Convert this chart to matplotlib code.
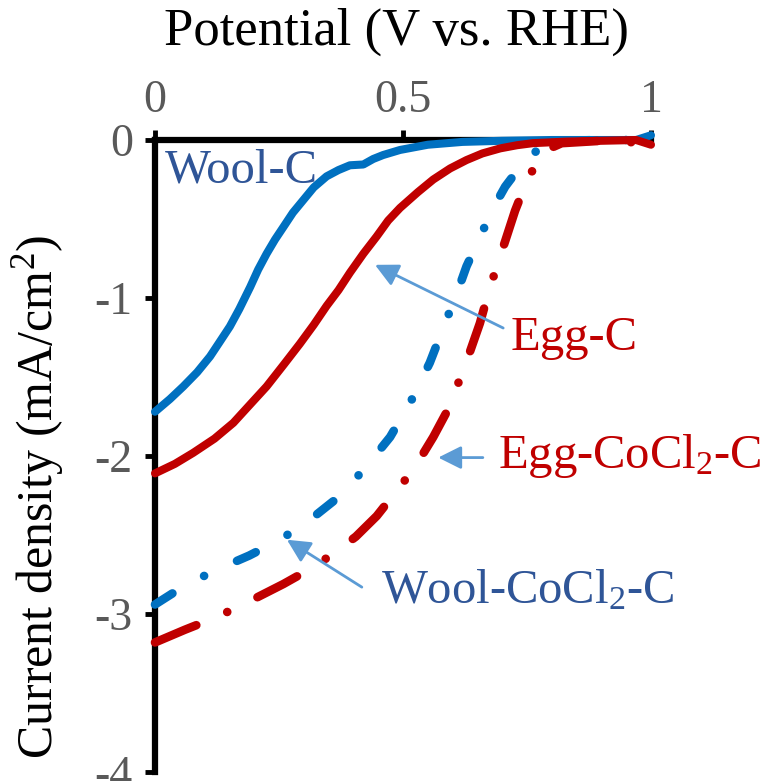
import matplotlib
matplotlib.use("Agg")
import matplotlib.pyplot as plt

plt.rcParams['font.family'] = ['Liberation Serif', 'DejaVu Serif']
plt.rcParams['mathtext.fontset'] = 'custom'
plt.rcParams['mathtext.rm'] = 'Liberation Serif'
plt.rcParams['mathtext.it'] = 'Liberation Serif:italic'
plt.rcParams['axes.unicode_minus'] = False

# ---- data ----
wool_x = [0, 0.03, 0.057, 0.085, 0.111, 0.13, 0.151, 0.17, 0.192, 0.208, 0.225, 0.242, 0.259,
          0.278, 0.299, 0.32, 0.346, 0.37, 0.393, 0.42, 0.44, 0.46, 0.494, 0.55, 0.62, 0.70,
          0.80, 0.90, 0.97, 1.0]
wool_y = [-1.72, -1.64, -1.56, -1.47, -1.37, -1.28, -1.18, -1.07, -0.93, -0.82, -0.72, -0.63,
          -0.55, -0.46, -0.38, -0.30, -0.23, -0.19, -0.16, -0.155, -0.12, -0.095, -0.063,
          -0.03, -0.012, -0.005, 0, 0, 0, 0.03]

egg_x = [0, 0.04, 0.077, 0.12, 0.158, 0.19, 0.225, 0.26, 0.292, 0.32, 0.346, 0.37, 0.393,
         0.42, 0.447, 0.47, 0.494, 0.53, 0.561, 0.595, 0.628, 0.66, 0.696, 0.73, 0.762,
         0.83, 0.9, 0.97, 1.0]
egg_y = [-2.11, -2.05, -1.98, -1.89, -1.79, -1.68, -1.56, -1.42, -1.29, -1.17, -1.05, -0.95,
         -0.84, -0.72, -0.61, -0.51, -0.43, -0.33, -0.25, -0.18, -0.127, -0.085, -0.053,
         -0.033, -0.02, -0.01, -0.005, 0, -0.03]

woolco_x = [0, 0.06, 0.124, 0.19, 0.252, 0.31, 0.366, 0.42, 0.474, 0.515, 0.554, 0.588,
            0.611, 0.628, 0.655, 0.682, 0.706, 0.744, 0.78, 0.82, 0.9, 1.0]
woolco_y = [-2.94, -2.82, -2.72, -2.63, -2.53, -2.41, -2.27, -2.09, -1.88, -1.66, -1.41,
            -1.135, -0.95, -0.80, -0.616, -0.43, -0.295, -0.137, -0.04, -0.005, 0, 0]

eggco_x = [0, 0.06, 0.124, 0.19, 0.259, 0.31, 0.359, 0.405, 0.447, 0.5, 0.53, 0.561, 0.59,
           0.615, 0.635, 0.655, 0.672, 0.689, 0.706, 0.726, 0.749, 0.77, 0.789, 0.82, 0.9, 1.0]
eggco_y = [-3.18, -3.10, -3.02, -2.92, -2.81, -2.72, -2.62, -2.51, -2.38, -2.17, -2.04, -1.88,
           -1.71, -1.51, -1.34, -1.16, -0.97, -0.80, -0.64, -0.447, -0.264, -0.14, -0.063,
           -0.02, -0.005, -0.02]

x_ticks = [0, 0.5, 1]
x_ticklabels = ['0', '0.5', '1']
y_ticks = [0, -1, -2, -3, -4]
y_ticklabels = ['0', '-1', '-2', '-3', '-4']

BLUE = '#0070C0'
RED = '#C00000'
BLUE_TXT = '#2F5597'
ARROW = '#5B9BD5'

fig = plt.figure(figsize=(7.64, 7.81), dpi=100)
ax = fig.add_axes([155/764, 1-772/781, 496/764, 632/781])

lw = 5.8
ax.plot(wool_x, wool_y, color=BLUE, lw=lw, solid_capstyle='round', zorder=3, clip_on=False)
ax.plot(woolco_x, woolco_y, color=BLUE, lw=lw+0.4, dashes=(2.4, 4.2, 0.01, 4.2),
        dash_capstyle='round', zorder=3, clip_on=False)
ax.plot(egg_x, egg_y, color=RED, lw=lw, solid_capstyle='round', zorder=4, clip_on=False)
ax.plot(eggco_x, eggco_y, color=RED, lw=lw+0.4, dashes=(5.2, 3.9, 0.01, 3.9),
        dash_capstyle='round', zorder=4, clip_on=False)

ax.set_xlim(0, 1)
ax.set_ylim(-4, 0)
ax.xaxis.tick_top()
ax.set_xticks(x_ticks)
ax.set_xticklabels(x_ticklabels)
ax.set_yticks(y_ticks)
ax.set_yticklabels(y_ticklabels)
ax.tick_params(axis='both', direction='out', length=7, width=3.5, color='black',
               labelsize=33, labelcolor='#595959')
ax.tick_params(axis='y', pad=9)
ax.tick_params(axis='x', pad=6)
for s in ['bottom', 'right']:
    ax.spines[s].set_visible(False)
for s in ['left', 'top']:
    ax.spines[s].set_linewidth(4.5)
    ax.spines[s].set_zorder(2)
ax.patch.set_alpha(0)

fs = 35
ax.text(0.02, -0.272, 'Wool-C', color=BLUE_TXT, fontsize=fs, ha='left', va='baseline')
ax.text(0.716, -1.33, 'Egg-C', color=RED, fontsize=fs, ha='left', va='baseline')
ax.text(0.692, -2.076, r'Egg-CoCl$_\mathregular{2}$-C', color=RED, fontsize=fs,
        ha='left', va='baseline')
ax.text(0.456, -2.93, r'Wool-CoCl$_\mathregular{2}$-C', color=BLUE_TXT, fontsize=fs,
        ha='left', va='baseline')

arrowprops = dict(arrowstyle='-|>,head_length=0.7,head_width=0.35', color=ARROW, lw=2,
                  mutation_scale=20, shrinkA=0, shrinkB=0)
ax.annotate('', xy=(0.4435, -0.79), xytext=(0.702, -1.19), arrowprops=arrowprops, zorder=5)
ax.annotate('', xy=(0.571, -2.01), xytext=(0.661, -2.01), arrowprops=arrowprops, zorder=5)
ax.annotate('', xy=(0.266, -2.53), xytext=(0.417, -2.83), arrowprops=arrowprops, zorder=5)

fig.text(396.5/764, 1-45/781, 'Potential (V vs. RHE)', fontsize=38, ha='center',
         va='baseline', color='black')
fig.text(38/764, 1-497/781, r'Current density (mA/cm$^\mathregular{2}$)', fontsize=36,
         rotation=90, ha='center', va='center', color='black')

fig.savefig('out.png', dpi=100)
